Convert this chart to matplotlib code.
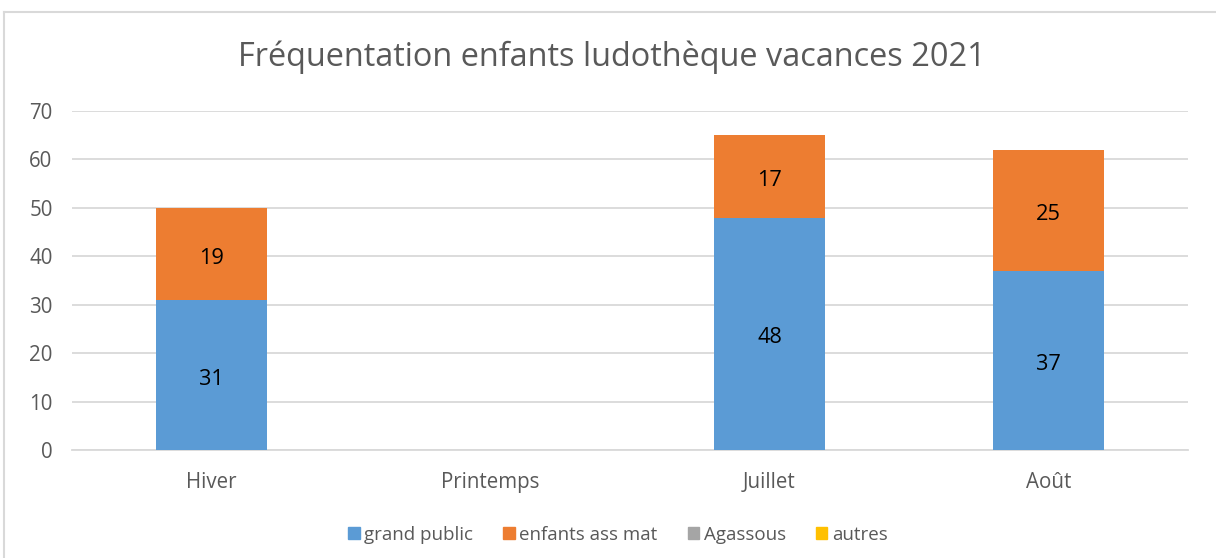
import matplotlib
matplotlib.use("Agg")
import matplotlib.pyplot as plt
from matplotlib.lines import Line2D
import numpy as np

categories = ["Hiver", "Printemps", "Juillet", "Août"]
series_names = ["grand public", "enfants ass mat", "Agassous", "autres"]
grand_public = [31, 0, 48, 37]
enfants_ass_mat = [19, 0, 17, 25]
agassous = [0, 0, 0, 0]
autres = [0, 0, 0, 0]
colors = ["#5B9BD5", "#ED7D31", "#A5A5A5", "#FFC000"]
yticks = [0, 10, 20, 30, 40, 50, 60, 70]
title = "Fréquentation enfants ludothèque vacances 2021"

plt.rcParams['font.family'] = ['Open Sans', 'DejaVu Sans']

W, H = 1216, 558
fig = plt.figure(figsize=(W / 100, H / 100), dpi=100)
renderer = fig.canvas.get_renderer()


def fit(s, target_px):
    t = fig.text(0, 0, s, fontsize=10)
    w = t.get_window_extent(renderer).width
    t.remove()
    return 10 * target_px / w


title_fs = fit(title, 750)
tick_fs = fit("Printemps", 99)
legend_fs = fit("enfants ass mat", 139)
label_fs = fit("19", 25)

ax = fig.add_axes([72 / W, 1 - 450 / H, (1188 - 72) / W, (450 - 111) / H])

x = np.arange(len(categories))
series = [grand_public, enfants_ass_mat, agassous, autres]
bottom = np.zeros(len(categories))
handles = []
for name, vals, col in zip(series_names, series, colors):
    vals = np.array(vals, dtype=float)
    ax.bar(x, vals, width=0.4, bottom=bottom, color=col, label=name, zorder=3)
    for xi, v, b in zip(x, vals, bottom):
        if v > 0:
            ax.annotate(f"{int(v)}", (xi, b + v / 2), xytext=(0, -3),
                        textcoords="offset points", ha="center", va="center",
                        fontsize=label_fs, color="#000000", zorder=4)
    bottom = bottom + vals
    handles.append(plt.Rectangle((0, 0), 1, 1, color=col))

ax.set_xlim(-0.5, len(categories) - 0.5)
ax.set_ylim(0, 70)
ax.set_yticks(yticks)
ax.set_xticks(x)
ax.set_xticklabels(categories)
ax.tick_params(axis="both", length=0, labelsize=tick_fs, colors="#595959")
ax.tick_params(axis="y", pad=14)
ax.tick_params(axis="x", pad=16)
ax.grid(axis="y", color="#D9D9D9", linewidth=1.3, zorder=0)
for s in ["top", "right", "left"]:
    ax.spines[s].set_visible(False)
ax.spines["bottom"].set_color("#D9D9D9")
ax.spines["bottom"].set_linewidth(1.3)

fig.text(612 / W, 1 - 57 / H, title, ha="center", va="center",
         fontsize=title_fs, color="#595959")

fig.legend(handles, series_names, loc="center", bbox_to_anchor=(618 / W, 1 - 535 / H),
           ncol=4, frameon=False, fontsize=legend_fs, handlelength=0.6, handleheight=0.6,
           handletextpad=0.25, columnspacing=1.6, labelcolor="#595959")

# chart border (top and left visible)
fig.add_artist(Line2D([4 / W, 4 / W], [0, 1 - 12 / H], transform=fig.transFigure,
                      color="#D9D9D9", linewidth=1.5))
fig.add_artist(Line2D([4 / W, 1], [1 - 12 / H, 1 - 12 / H], transform=fig.transFigure,
                      color="#D9D9D9", linewidth=1.5))

fig.savefig("out.png", dpi=100)
